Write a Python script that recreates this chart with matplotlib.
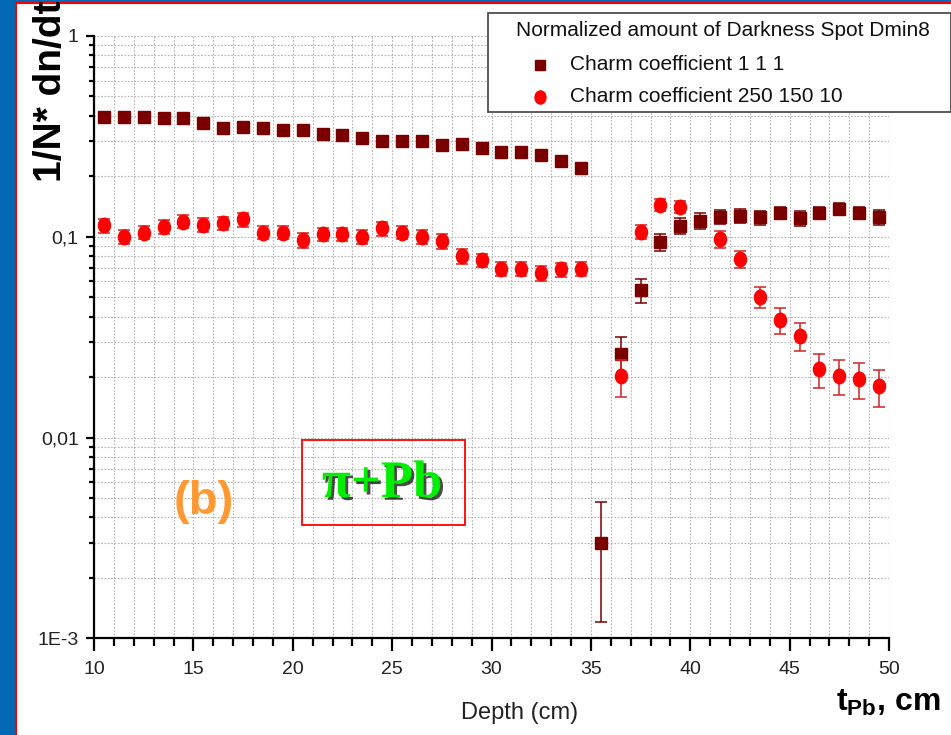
import numpy as np
import matplotlib
matplotlib.use("Agg")
import matplotlib.pyplot as plt
from matplotlib.path import Path
from matplotlib.patches import Rectangle
from matplotlib.lines import Line2D
import matplotlib.patheffects as pe
from matplotlib.ticker import FixedLocator, FixedFormatter, MultipleLocator, LogLocator, NullFormatter

# ---------------- data ----------------
depth_sq = [10.5, 11.5, 12.5, 13.5, 14.5, 15.5, 16.5, 17.5, 18.5, 19.5,
            20.5, 21.5, 22.5, 23.5, 24.5, 25.5, 26.5, 27.5, 28.5, 29.5,
            30.5, 31.5, 32.5, 33.5, 34.5, 35.5, 36.5, 37.5, 38.5, 39.5,
            40.5, 41.5, 42.5, 43.5, 44.5, 45.5, 46.5, 47.5, 48.5, 49.5]
dens_sq = [0.396, 0.396, 0.396, 0.389, 0.389, 0.367, 0.348, 0.353, 0.348, 0.340,
           0.340, 0.325, 0.320, 0.310, 0.301, 0.301, 0.299, 0.287, 0.290, 0.278,
           0.265, 0.265, 0.255, 0.238, 0.219, 0.0030, 0.026, 0.054, 0.094, 0.1135,
           0.120, 0.126, 0.127, 0.125, 0.132, 0.1235, 0.132, 0.138, 0.132, 0.125]
err_sq = [0.010, 0.010, 0.010, 0.010, 0.010, 0.010, 0.010, 0.010, 0.010, 0.010,
          0.010, 0.010, 0.010, 0.010, 0.010, 0.010, 0.010, 0.010, 0.010, 0.010,
          0.010, 0.010, 0.010, 0.010, 0.010, 0.0018, 0.0055, 0.0073, 0.009, 0.010,
          0.011, 0.010, 0.010, 0.010, 0.009, 0.011, 0.009, 0.009, 0.009, 0.011]

depth_ci = [10.5, 11.5, 12.5, 13.5, 14.5, 15.5, 16.5, 17.5, 18.5, 19.5,
            20.5, 21.5, 22.5, 23.5, 24.5, 25.5, 26.5, 27.5, 28.5, 29.5,
            30.5, 31.5, 32.5, 33.5, 34.5, 36.5, 37.5, 38.5, 39.5,
            41.5, 42.5, 43.5, 44.5, 45.5, 46.5, 47.5, 48.5, 49.5]
dens_ci = [0.114, 0.100, 0.105, 0.112, 0.119, 0.115, 0.117, 0.122, 0.105, 0.105,
           0.096, 0.103, 0.103, 0.100, 0.110, 0.105, 0.100, 0.0948, 0.080, 0.0765,
           0.0693, 0.0693, 0.0657, 0.0688, 0.069, 0.0202, 0.106, 0.144, 0.141,
           0.0974, 0.0774, 0.0502, 0.0385, 0.0321, 0.0219, 0.0203, 0.0195, 0.018]
err_ci = [0.009, 0.008, 0.008, 0.009, 0.009, 0.009, 0.009, 0.010, 0.008, 0.008,
          0.008, 0.008, 0.008, 0.008, 0.009, 0.008, 0.008, 0.008, 0.0065, 0.006,
          0.0055, 0.0055, 0.0055, 0.0055, 0.0055, 0.0042, 0.009, 0.010, 0.010,
          0.009, 0.0078, 0.0061, 0.0058, 0.0052, 0.0042, 0.004, 0.004, 0.0038]

x_ticks = [10, 15, 20, 25, 30, 35, 40, 45, 50]
y_ticks = [0.001, 0.01, 0.1, 1]
y_tick_labels = ["1E-3", "0,01", "0,1", "1"]
series_labels = ["Charm coefficient 1 1 1", "Charm coefficient 250 150 10"]
legend_title = "Normalized amount of Darkness Spot Dmin8"

# ---------------- styling ----------------
plt.rcParams["font.family"] = ["Liberation Sans", "DejaVu Sans"]
plt.rcParams["mathtext.fontset"] = "custom"
plt.rcParams["mathtext.bf"] = "Liberation Sans:bold"
plt.rcParams["mathtext.rm"] = "Liberation Sans"

W, H = 951, 735
fig = plt.figure(figsize=(W / 100, H / 100), dpi=100)
fig.patch.set_facecolor("white")


def fx(px):
    return px / W


def fy(py):
    return 1 - py / H


# slide frame: blue band left/top with thin red line
fig.add_artist(Rectangle((0, 0), 1, 1, transform=fig.transFigure,
                         facecolor="#0068B4", edgecolor="none", zorder=-10))
fig.add_artist(Rectangle((fx(16), 0), 1 - fx(16), fy(3), transform=fig.transFigure,
                         facecolor="white", edgecolor="none", zorder=-9))
fig.add_artist(Line2D([fx(16), fx(16)], [0, fy(3)], transform=fig.transFigure,
                      color="#FF0000", lw=1.5, zorder=-8))
fig.add_artist(Line2D([fx(16), 1], [fy(3), fy(3)], transform=fig.transFigure,
                      color="#FF0000", lw=1.5, zorder=-8))

ax = fig.add_axes([fx(94), fy(638.3), fx(889) - fx(94), fy(36) - fy(638.3)])
ax.set_facecolor("white")
ax.set_yscale("log")
ax.set_xlim(10, 50)
ax.set_ylim(1e-3, 1)

for s in ("top", "right"):
    ax.spines[s].set_visible(False)
for s in ("left", "bottom"):
    ax.spines[s].set_linewidth(1.6)
    ax.spines[s].set_color("black")

ax.xaxis.set_major_locator(FixedLocator(x_ticks))
ax.xaxis.set_minor_locator(MultipleLocator(1))
ax.yaxis.set_major_locator(FixedLocator(y_ticks))
ax.yaxis.set_major_formatter(FixedFormatter(y_tick_labels))
ax.yaxis.set_minor_locator(LogLocator(base=10, subs=range(2, 10)))
ax.yaxis.set_minor_formatter(NullFormatter())

ax.tick_params(axis="x", which="major", length=9, width=1.6, pad=7,
               labelsize=14, labelcolor="#222222", direction="out")
ax.tick_params(axis="x", which="minor", length=5.5, width=1.6, direction="out")
ax.tick_params(axis="y", which="major", length=6, width=1.6, pad=5,
               labelsize=14, labelcolor="#222222", direction="out")
ax.tick_params(axis="y", which="minor", length=3.5, width=1.6, direction="out")

ax.grid(which="both", color="#b4b4b4", linestyle=(0, (1.5, 1.5)), lw=0.8)
ax.set_axisbelow(True)

circ = Path.unit_circle()
ellipse = Path(circ.vertices * np.array([0.83, 1.0]), circ.codes)

ax.errorbar(depth_sq, dens_sq, yerr=err_sq, fmt="s", color="#7a0000",
            ms=8.5, mec="#7a0000", ecolor="#7a0000", elinewidth=1.1,
            capsize=4.3, capthick=1.1, zorder=3)
ax.errorbar(depth_ci, dens_ci, yerr=err_ci, fmt="none", ecolor="#d02525",
            elinewidth=1.1, capsize=4.5, capthick=1.1, zorder=4)
ax.plot(depth_ci, dens_ci, linestyle="none", marker=ellipse, ms=10.5,
        color="#ff0000", mec="#ff0000", zorder=5)

# annotations
fig.text(fx(204), fy(502), "(b)", color="#FF9933", fontsize=34,
         fontweight="bold", ha="center", va="center")
fig.text(fx(382), fy(484), "\u03c0+Pb", color="#00EE00", fontsize=38,
         fontweight="bold", family=["Liberation Serif", "DejaVu Serif"],
         ha="center", va="center",
         path_effects=[pe.SimplePatchShadow(offset=(2, -2), shadow_rgbFace="black", alpha=0.7),
                       pe.Normal()])
fig.add_artist(Rectangle((fx(302), fy(525)), fx(465) - fx(302), fy(440) - fy(525),
                         transform=fig.transFigure, fill=False,
                         edgecolor="#FF0000", lw=1.3, zorder=5))

# axis labels
fig.text(fx(51), fy(182), "1/N* dn/dt", rotation=90, ha="center", va="bottom",
         fontsize=28, fontweight="bold")
fig.text(fx(520), fy(713), "Depth (cm)", ha="center", va="center",
         fontsize=17, color="#222222")
fig.text(fx(940), fy(703), r"$\mathbf{t_{Pb}}$, cm", ha="right", va="center",
         fontsize=23, fontweight="bold")

# legend (drawn manually)
fig.add_artist(Rectangle((fx(488), fy(112)), fx(951) - fx(488), fy(13) - fy(112),
                         transform=fig.transFigure, facecolor="white",
                         edgecolor="#404040", lw=1.2, zorder=6))
fig.text(fx(516), fy(31), legend_title, fontsize=15, ha="left", va="center",
         color="#111111", zorder=7)
fig.add_artist(Line2D([fx(540)], [fy(65)], transform=fig.transFigure, marker="s",
                      ms=7.5, color="#7a0000", linestyle="none", zorder=7))
fig.add_artist(Line2D([fx(540)], [fy(97)], transform=fig.transFigure, marker=ellipse,
                      ms=9.5, color="#ff0000", linestyle="none", zorder=7))
fig.text(fx(570), fy(65), series_labels[0], fontsize=15, ha="left", va="center",
         color="#111111", zorder=7)
fig.text(fx(570), fy(97), series_labels[1], fontsize=15, ha="left", va="center",
         color="#111111", zorder=7)

fig.savefig("out.png", dpi=100)
